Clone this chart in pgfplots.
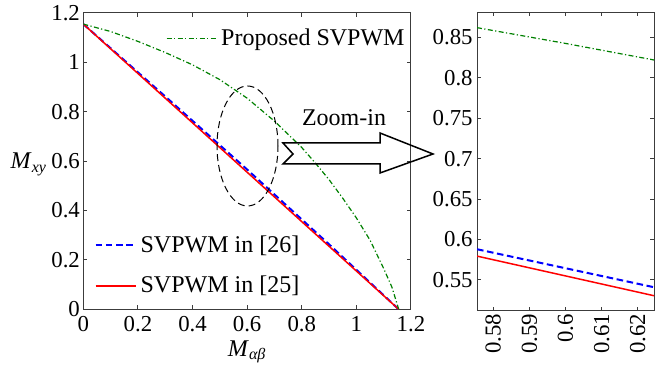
\documentclass[border=0pt]{standalone}
\usepackage{fontspec}
\setmainfont{Liberation Serif}
\usepackage{pgfplots}
\pgfplotsset{compat=1.18}
\definecolor{mgreen}{RGB}{0,128,0}
\definecolor{axgray}{RGB}{60,60,60}
\pgfplotsset{
  common/.style={
    scale only axis, anchor=south west,
    tick align=inside,
    axis line style={axgray, line width=0.5pt},
    major tick style={axgray, line width=0.5pt},
    major tick length=2pt,
    tick label style={font=\fontsize{11.4}{13}\selectfont\rmfamily},
    label style={font=\fontsize{12}{14}\selectfont},
    legend style={draw=none, fill=none, font=\fontsize{12}{14}\selectfont, row sep=0pt},
    legend cell align=left,
    legend image code/.code={\draw[##1] (0pt,0pt) -- (20pt,0pt);},
  },
  longleg/.style={
    legend image code/.code={\draw[##1] (0pt,0pt) -- (25pt,0pt);},
  },
  bluel/.style={color=blue, line width=1pt, dash pattern=on 3.3pt off 1.8pt},
  redl/.style={color=red, line width=0.75pt},
  greenl/.style={color=mgreen, line width=0.6pt, dash pattern=on 2.5pt off 1.2pt on 0.6pt off 1.2pt},
}
\begin{document}
\begin{tikzpicture}
\path[use as bounding box] (0pt,0pt) rectangle (335.5pt,183.5pt);
% left axis
\begin{axis}[common,
  at={(41.65pt,28.85pt)}, width=163.85pt, height=148.15pt,
  xmin=0, xmax=1.2, ymin=0, ymax=1.2,
  xtick={0,0.2,0.4,0.6,0.8,1,1.2},
  xticklabels={0,0.2,0.4,0.6,0.8,1,1.2},
  ytick={0,0.2,0.4,0.6,0.8,1,1.2},
  yticklabels={0,0.2,0.4,0.6,0.8,1,1.2},
  yticklabel style={inner xsep=1.5pt},
  xlabel={\textit{M}\textsubscript{\textit{αβ}}},
  xlabel style={yshift=2.5pt},
  ylabel={\textit{M}\textsubscript{\textit{xy}}},
  ylabel style={at={(axis description cs:-0.166,0.49)}, rotate=-90, anchor=center},
  legend style={at={(axis description cs:0.015,0.017)}, anchor=south west, row sep=6.5pt},
]
\addplot[bluel] coordinates {(0,1.155) (0.3,0.862) (0.6,0.566) (0.9,0.263) (1.155,0)};
\addlegendentry{SVPWM in [26]}
\addplot[redl] coordinates {(0,1.155) (0.3,0.855) (0.6,0.555) (0.9,0.255) (1.155,0)};
\addlegendentry{SVPWM in [25]}
\end{axis}
% overlay axis for green curve and its legend
\begin{axis}[common, longleg,
  at={(41.65pt,28.85pt)}, width=163.85pt, height=148.15pt,
  xmin=0, xmax=1.2, ymin=0, ymax=1.2,
  hide axis,
  legend style={at={(axis description cs:1.012,0.976)}, anchor=north east},
]
\addplot[greenl] coordinates {(0,1.155) (0.1,1.125) (0.2,1.085) (0.3,1.04) (0.4,0.99) (0.5,0.93) (0.6,0.855) (0.7,0.762) (0.8,0.655) (0.85,0.592) (0.9,0.525) (0.95,0.45) (1.0,0.37) (1.05,0.28) (1.1,0.165) (1.13,0.09) (1.155,0)};
\addlegendentry{Proposed SVPWM}
\end{axis}
% right zoomed axis
\begin{axis}[common,
  at={(238.5pt,28.15pt)}, width=88.5pt, height=149.2pt,
  xmin=0.5755, xmax=0.6245, ymin=0.512, ymax=0.881,
  xtick={0.58,0.59,0.6,0.61,0.62},
  xticklabels={0.58,0.59,0.6,0.61,0.62},
  ytick={0.55,0.6,0.65,0.7,0.75,0.8,0.85},
  yticklabels={0.55,0.6,0.65,0.7,0.75,0.8,0.85},
  xticklabel style={rotate=90, anchor=east, inner xsep=1.5pt},
  yticklabel style={inner xsep=2pt},
]
\addplot[greenl] coordinates {(0.5755,0.862) (0.6,0.8425) (0.6245,0.822)};
\addplot[bluel] coordinates {(0.5755,0.588) (0.6245,0.541)};
\addplot[redl] coordinates {(0.5755,0.5795) (0.6245,0.5305)};
\end{axis}
% annotations
\draw[black, line width=0.5pt, dash pattern=on 3.5pt off 2pt] (123.75pt,110.5pt) ellipse [x radius=15.25pt, y radius=30pt];
\draw[black, line width=0.75pt] (141.5pt,112pt) -- (190pt,112pt) -- (190pt,117pt) -- (216.5pt,106.5pt) -- (190pt,97pt) -- (190pt,101.5pt) -- (141.5pt,101.5pt) -- (146.5pt,106.5pt) -- cycle;
\node[font=\fontsize{12}{14}\selectfont] at (172pt,124.5pt) {Zoom-in};
\end{tikzpicture}
\end{document}
